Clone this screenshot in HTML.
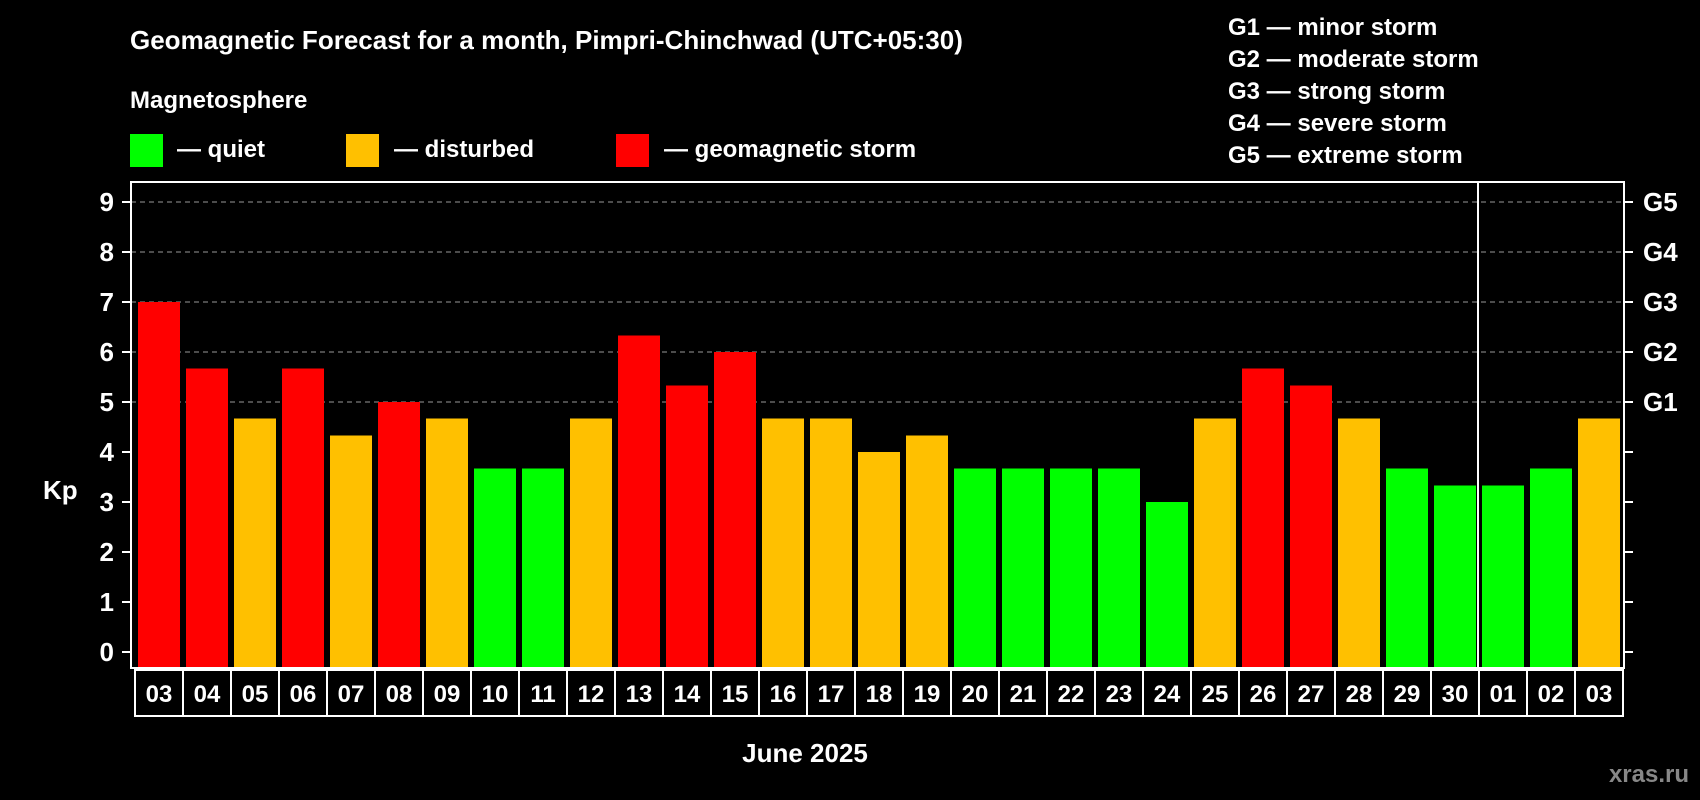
<!DOCTYPE html>
<html><head><meta charset="utf-8"><style>
html,body{margin:0;padding:0;background:#000;}
svg{display:block;font-family:"Liberation Sans",Arial,sans-serif;font-weight:bold;}
</style></head><body>
<svg id="chart" width="1700" height="800" viewBox="0 0 1700 800">
<rect x="0" y="0" width="1700" height="800" fill="#000"/>
<text x="130" y="49" fill="#fff" font-size="26">Geomagnetic Forecast for a month, Pimpri-Chinchwad (UTC+05:30)</text>
<text x="130" y="108" fill="#fff" font-size="24">Magnetosphere</text>
<rect x="130" y="134" width="33" height="33" fill="#00ff00"/>
<text x="177" y="157" fill="#fff" font-size="24">— quiet</text>
<rect x="346" y="134" width="33" height="33" fill="#ffc000"/>
<text x="394" y="157" fill="#fff" font-size="24">— disturbed</text>
<rect x="616" y="134" width="33" height="33" fill="#ff0000"/>
<text x="664" y="157" fill="#fff" font-size="24">— geomagnetic storm</text>
<g font-size="24" fill="#fff">
<text x="1228" y="35">G1 — minor storm</text>
<text x="1228" y="67">G2 — moderate storm</text>
<text x="1228" y="99">G3 — strong storm</text>
<text x="1228" y="131">G4 — severe storm</text>
<text x="1228" y="163">G5 — extreme storm</text>
</g>
<text x="43" y="499" fill="#fff" font-size="26">Kp</text>
<text x="805" y="762" fill="#fff" font-size="26" text-anchor="middle">June 2025</text>
<text x="1689" y="782" fill="#888" font-size="24" text-anchor="end">xras.ru</text>
<g id="plot"></g>
</svg>
<script>
const dates = ["03","04","05","06","07","08","09","10","11","12","13","14","15","16","17","18","19","20","21","22","23","24","25","26","27","28","29","30","01","02","03"];
const kp = [7,5.67,4.67,5.67,4.33,5,4.67,3.67,3.67,4.67,6.33,5.33,6,4.67,4.67,4,4.33,3.67,3.67,3.67,3.67,3,4.67,5.67,5.33,4.67,3.67,3.33,3.33,3.67,4.67];
const yTicks = [0,1,2,3,4,5,6,7,8,9];
const gLabels = ["G1","G2","G3","G4","G5"];
const gLevels = [5,6,7,8,9];
const monthBreakIndex = 28;

const NS = "http://www.w3.org/2000/svg";
const plot = document.getElementById("plot");
const L = 131, R = 1624, T = 182, B = 668;
const y0 = 652, unit = 50;
const x0 = 135, pitch = 48;
function y(v){ return y0 - v*unit; }
function x(i){ return x0 + i*pitch; }
function mk(tag, attrs){ const e = document.createElementNS(NS, tag); for (const k in attrs) e.setAttribute(k, attrs[k]); plot.appendChild(e); return e; }
function color(v){ return v >= 5 ? "#ff0000" : (v >= 4 ? "#ffc000" : "#00ff00"); }

gLevels.forEach((g, i) => {
  const ln = mk("line", {x1: L, x2: R, y1: y(g), y2: y(g), stroke: "#999", "stroke-width": 1, "stroke-dasharray": "5,4"});
  
  
});
kp.forEach((v, i) => {
  const r = mk("rect", {x: x(i) + 3, y: y(v), width: 42, height: B - y(v), fill: color(v)});
  
  
});
const sep = mk("line", {x1: x(monthBreakIndex) - 1, x2: x(monthBreakIndex) - 1, y1: T, y2: B, stroke: "#fff", "stroke-width": 2});


const frame = mk("path", {d: `M${L},${T} H${R} V${B} H${L} Z`, fill: "none", stroke: "#fff", "stroke-width": 2});


yTicks.forEach(t => {
  const a = mk("line", {x1: L - 9, x2: L, y1: y(t), y2: y(t), stroke: "#fff", "stroke-width": 2});
  
  
  const b = mk("line", {x1: R, x2: R + 9, y1: y(t), y2: y(t), stroke: "#fff", "stroke-width": 2});
  
  
  const tx = mk("text", {x: 114, y: y(t) + 9, fill: "#fff", "font-size": 26, "text-anchor": "end"});
  tx.textContent = t;
  
  
});
gLevels.forEach((g, i) => {
  const tx = mk("text", {x: 1643, y: y(g) + 9, fill: "#fff", "font-size": 26});
  tx.textContent = gLabels[i];
  
  
});
dates.forEach((d, i) => {
  const c = mk("rect", {x: x(i), y: 670, width: pitch, height: 46, fill: "#000", stroke: "#fff", "stroke-width": 2});
  
  
  const tx = mk("text", {x: x(i) + pitch/2, y: 702, fill: "#fff", "font-size": 24, "text-anchor": "middle"});
  tx.textContent = d;
  
  
});
</script>
</body></html>
